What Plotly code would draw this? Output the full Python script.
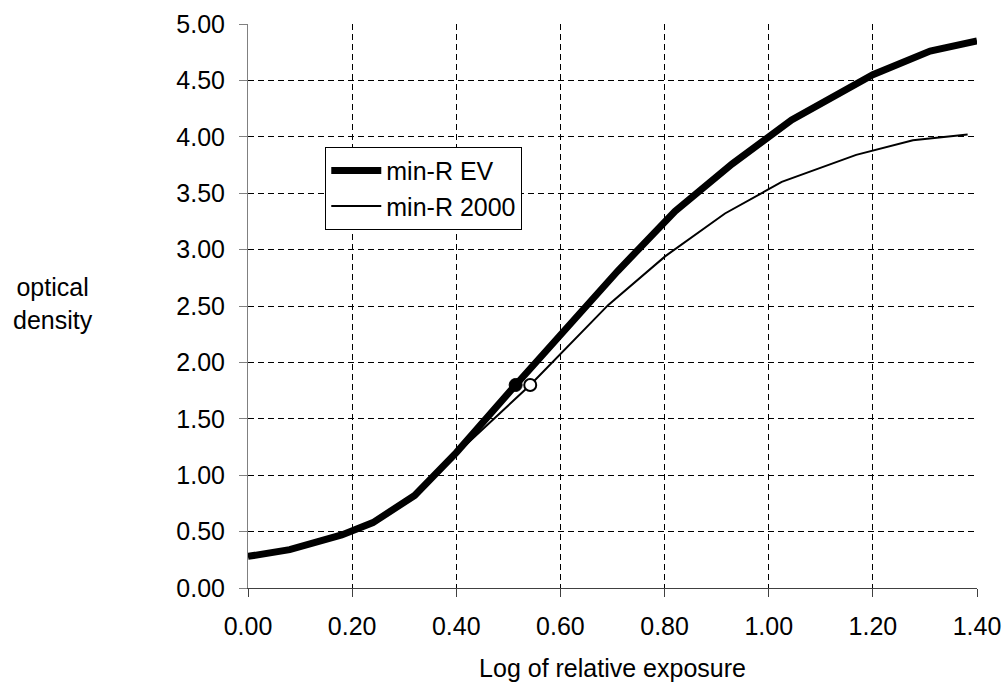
import plotly.graph_objects as go

# Data
ev_x = [0.00, 0.08, 0.18, 0.24, 0.32, 0.40, 0.514, 0.61, 0.71, 0.82, 0.93, 1.044, 1.20, 1.31, 1.40]
ev_y = [0.28, 0.34, 0.47, 0.58, 0.82, 1.20, 1.80, 2.30, 2.81, 3.34, 3.76, 4.15, 4.55, 4.76, 4.85]

r2000_x = [0.00, 0.08, 0.18, 0.24, 0.32, 0.40, 0.542, 0.692, 0.801, 0.916, 1.025, 1.168, 1.277, 1.382]
r2000_y = [0.28, 0.34, 0.47, 0.58, 0.82, 1.19, 1.80, 2.51, 2.94, 3.32, 3.60, 3.84, 3.97, 4.02]

ev_marker = ([0.514], [1.80])
r2000_marker = ([0.542], [1.80])

x_ticks = [0.0, 0.2, 0.4, 0.6, 0.8, 1.0, 1.2, 1.4]
y_ticks = [0.0, 0.5, 1.0, 1.5, 2.0, 2.5, 3.0, 3.5, 4.0, 4.5, 5.0]

FONT = "Liberation Sans, Arial, sans-serif"
FS = 25

fig = go.Figure()
fig.add_trace(go.Scatter(x=ev_x, y=ev_y, mode="lines", name="min-R EV", legendgroup="a",
                         line=dict(color="black", width=7)))
fig.add_trace(go.Scatter(x=r2000_x, y=r2000_y, mode="lines", name="min-R 2000", legendgroup="b",
                         line=dict(color="black", width=2)))
fig.add_trace(go.Scatter(x=ev_marker[0], y=ev_marker[1], mode="markers", showlegend=False,
                         marker=dict(color="black", size=13, line=dict(color="black", width=1))))
fig.add_trace(go.Scatter(x=r2000_marker[0], y=r2000_marker[1], mode="markers", showlegend=False,
                         marker=dict(color="white", size=12, line=dict(color="black", width=2))))

fig.update_layout(
    width=1004, height=682,
    margin=dict(l=247.5, r=26.5, t=24.3, b=93.7, autoexpand=False),
    paper_bgcolor="white", plot_bgcolor="white",
    font=dict(family=FONT, size=FS, color="black"),
    showlegend=True,
    legend=dict(x=0.106, y=0.7825, xanchor="left", yanchor="top",
                bgcolor="white", bordercolor="black", borderwidth=1,
                font=dict(size=FS), itemwidth=50, tracegroupgap=0),
)
fig.update_xaxes(
    range=[0, 1.4], tickvals=x_ticks, tickformat=".2f",
    showgrid=True, gridcolor="black", gridwidth=1, griddash="6px,4px",
    showline=True, linecolor="#404040", linewidth=1,
    ticks="outside", ticklen=8, tickcolor="#404040",
    zeroline=False, ticklabelstandoff=8, automargin=False,
    title=dict(text="Log of relative exposure", standoff=20, font=dict(size=FS)),
)
fig.update_yaxes(
    range=[0, 5.0], tickvals=y_ticks, tickformat=".2f",
    showgrid=True, gridcolor="black", gridwidth=1, griddash="6px,4px",
    showline=True, linecolor="#808080", linewidth=1,
    ticks="outside", ticklen=8, tickcolor="#808080",
    zeroline=False, ticklabelstandoff=9, automargin=False,
)
fig.add_annotation(text="optical<br>density", xref="paper", yref="paper",
                   x=-0.268, y=0.504, showarrow=False, xanchor="center", yanchor="middle",
                   font=dict(size=FS, family=FONT))

# remove the default 8px page margin so the figure fills the window exactly
fig.write_html("out.html", config={"displayModeBar": False},
               post_script="document.body.style.margin='0';")
